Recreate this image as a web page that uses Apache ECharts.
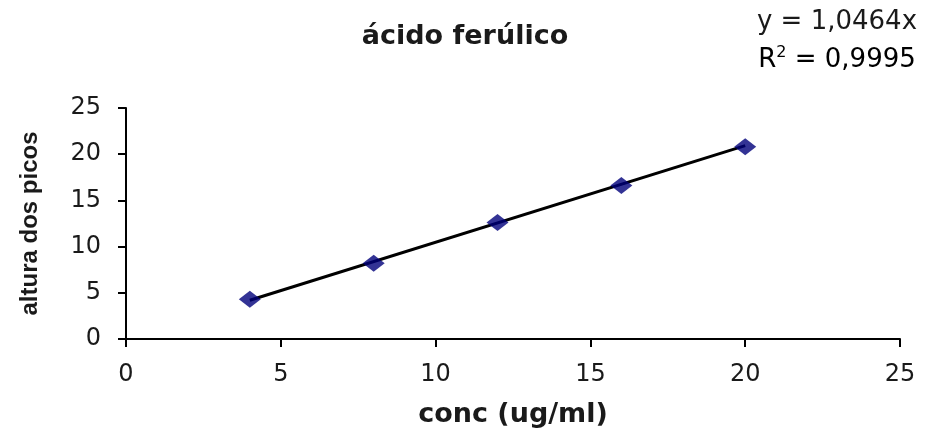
<!DOCTYPE html>
<html><head><meta charset="utf-8">
<script src="https://cdn.jsdelivr.net/npm/echarts@6/dist/echarts.min.js"></script>
<style>html,body{margin:0;padding:0;background:#fff}#c{width:933px;height:433px}</style>
</head><body><div id="c"></div>
<script>
const concX = [4, 8, 12, 16, 20];
const alturaY = [4.3, 8.2, 12.6, 16.6, 20.8];
const trendX = [4, 20];
const trendY = [4.19, 20.93];
const xTicks = [0, 5, 10, 15, 20, 25];
const yTicks = [0, 5, 10, 15, 20, 25];
const titleText = 'ácido ferúlico';
const eqLine1 = 'y = 1,0464x';
const eqR2 = '0,9995';

const wide = '"DejaVu Sans", Verdana, sans-serif';
const narrow = '"Liberation Sans", Arial, sans-serif';
const txt = '#1a1a1a';
const chart = echarts.init(document.getElementById('c'), null, {renderer: 'canvas'});
chart.setOption({
  animation: false,
  backgroundColor: '#fff',
  title: {
    text: titleText, left: 460, top: 18, textAlign: 'center',
    textStyle: {fontFamily: wide, fontSize: 27, fontWeight: 'bold', color: txt}
  },
  grid: {left: 126, right: 33, top: 108, bottom: 94, containLabel: false},
  xAxis: {
    type: 'value', min: xTicks[0], max: xTicks[xTicks.length - 1], interval: 5,
    name: 'conc (ug/ml)', nameLocation: 'middle', nameGap: 62,
    nameTextStyle: {fontFamily: wide, fontSize: 27, fontWeight: 'bold', color: txt},
    axisLine: {lineStyle: {color: '#000', width: 2}},
    axisTick: {show: true, inside: false, length: 8, lineStyle: {color: '#000', width: 2}},
    axisLabel: {fontFamily: wide, fontSize: 24, color: txt, margin: 24},
    splitLine: {show: false}
  },
  yAxis: {
    type: 'value', min: yTicks[0], max: yTicks[yTicks.length - 1], interval: 5,
    name: 'altura dos picos', nameLocation: 'middle', nameGap: 84, nameRotate: 90,
    nameTextStyle: {fontFamily: narrow, fontSize: 24, fontWeight: 'bold', color: txt},
    axisLine: {show: true, lineStyle: {color: '#000', width: 2}},
    axisTick: {show: true, inside: false, length: 8, lineStyle: {color: '#000', width: 2}},
    axisLabel: {fontFamily: wide, fontSize: 24, color: txt, margin: 25},
    splitLine: {show: false}
  },
  graphic: [
    {type: 'text', x: 837, y: 22, style: {text: eqLine1, font: '26px ' + wide, fill: txt, align: 'center', verticalAlign: 'middle'}},
    {type: 'text', x: 837, y: 60, style: {
      text: '{b|R}{s|2}{b| = ' + eqR2 + '}', align: 'center', verticalAlign: 'middle',
      rich: {
        b: {fontFamily: wide, fontSize: 26, color: txt},
        s: {fontFamily: wide, fontSize: 16, color: txt, verticalAlign: 'top', padding: [0, 0, 14, 0]}
      }
    }}
  ],
  series: [
    {
      type: 'line', data: trendX.map((x, i) => [x, trendY[i]]),
      showSymbol: false, symbol: 'none', lineStyle: {color: '#000', width: 3}, z: 2
    },
    {
      type: 'scatter', data: concX.map((x, i) => [x, alturaY[i]]),
      symbol: 'diamond', symbolSize: [22, 17], itemStyle: {color: '#00007a'}, z: 3
    }
  ]
});
</script></body></html>
